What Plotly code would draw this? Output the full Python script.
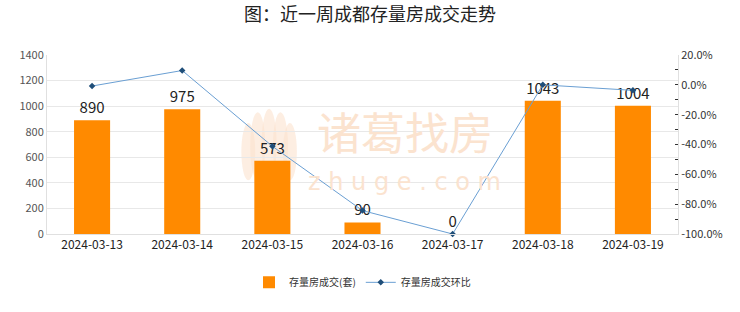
import plotly.graph_objects as go

dates = ["2024-03-13", "2024-03-14", "2024-03-15", "2024-03-16", "2024-03-17", "2024-03-18", "2024-03-19"]
deals = [890, 975, 573, 90, 0, 1043, 1004]
ratio = [-0.8, 9.6, -41.2, -84.3, -100.0, 0.0, -3.7]
left_ticks = [0, 200, 400, 600, 800, 1000, 1200, 1400]
right_ticks = [20, 0, -20, -40, -60, -80, -100]
right_labels = ["20.0%", "0.0%", "-20.0%", "-40.0%", "-60.0%", "-80.0%", "-100.0%"]

fig = go.Figure()

# watermark (decorative)
wm = "#fbe3cf"
for (x0, x1, y0, y1) in [(0.308, 0.330, 0.30, 0.62), (0.322, 0.346, 0.30, 0.68), (0.340, 0.364, 0.30, 0.70),
                         (0.358, 0.382, 0.30, 0.68), (0.374, 0.396, 0.30, 0.62)]:
    fig.add_shape(type="circle", xref="paper", yref="paper", x0=x0, x1=x1, y0=y0, y1=y1,
                  fillcolor=wm, opacity=0.6, line=dict(width=0), layer="below")
fig.add_annotation(text="诸葛找房", x=0.567, y=0.39, xref="paper", yref="paper", showarrow=False,
                   font=dict(size=44, color=wm, family="Noto Sans CJK SC"), xanchor="center", yanchor="bottom",
                   borderpad=0)
fig.add_annotation(text="z h u g e . c o m", x=0.567, y=0.375, xref="paper", yref="paper", showarrow=False,
                   font=dict(size=24, color=wm, family="DejaVu Sans"), xanchor="center", yanchor="top",
                   borderpad=0)

fig.add_trace(go.Bar(
    x=dates, y=deals, name="存量房成交(套)",
    marker=dict(color="#ff8a00", line=dict(width=0)),
    width=0.4,
    text=[str(v) for v in deals], textposition="outside",
    textfont=dict(size=15, color="#222222", family="Noto Sans CJK SC"),
    cliponaxis=False,
))
fig.add_trace(go.Scatter(
    x=dates, y=ratio, name="存量房成交环比", yaxis="y2",
    mode="lines+markers",
    line=dict(color="#6a9fd3", width=1),
    marker=dict(symbol="diamond", size=5, color="#1f4e79"),
    cliponaxis=False,
))

fig.update_layout(
    width=740, height=312,
    margin=dict(l=47, r=62, t=55, b=78),
    paper_bgcolor="white", plot_bgcolor="white",
    title=dict(text="图：近一周成都存量房成交走势", x=0.5, xanchor="center", y=0.952, yanchor="middle",
               font=dict(size=18, color="#222222", family="Noto Sans CJK SC")),
    font=dict(family="Noto Sans CJK SC", color="#333333"),
    showlegend=True,
    legend=dict(orientation="h", x=0.5, xanchor="center", y=-0.27, yanchor="middle",
                font=dict(size=10, color="#333333"), itemwidth=30, tracegroupgap=0),
    xaxis=dict(type="category", showline=True, linecolor="#e0e0e0", linewidth=1, ticks="", showgrid=False,
               tickfont=dict(size=12, color="#222222")),
    yaxis=dict(range=[0, 1400], tickvals=left_ticks, showgrid=True, gridcolor="#e8e8e8",
               showline=True, linecolor="#e0e0e0", zeroline=False,
               tickfont=dict(size=11, color="#555555"), ticks=""),
    yaxis2=dict(range=[-100, 20], overlaying="y", side="right", tickvals=right_ticks, ticktext=right_labels,
                showgrid=False, zeroline=False, showline=True, linecolor="#e0e0e0",
                ticks="inside", ticklen=3, tickcolor="#333333",
                minor=dict(tickvals=[10, -10, -30, -50, -70, -90], ticks="inside", ticklen=3, tickcolor="#333333"),
                tickfont=dict(size=11, color="#333333")),
)
fig.write_html("out.html")
